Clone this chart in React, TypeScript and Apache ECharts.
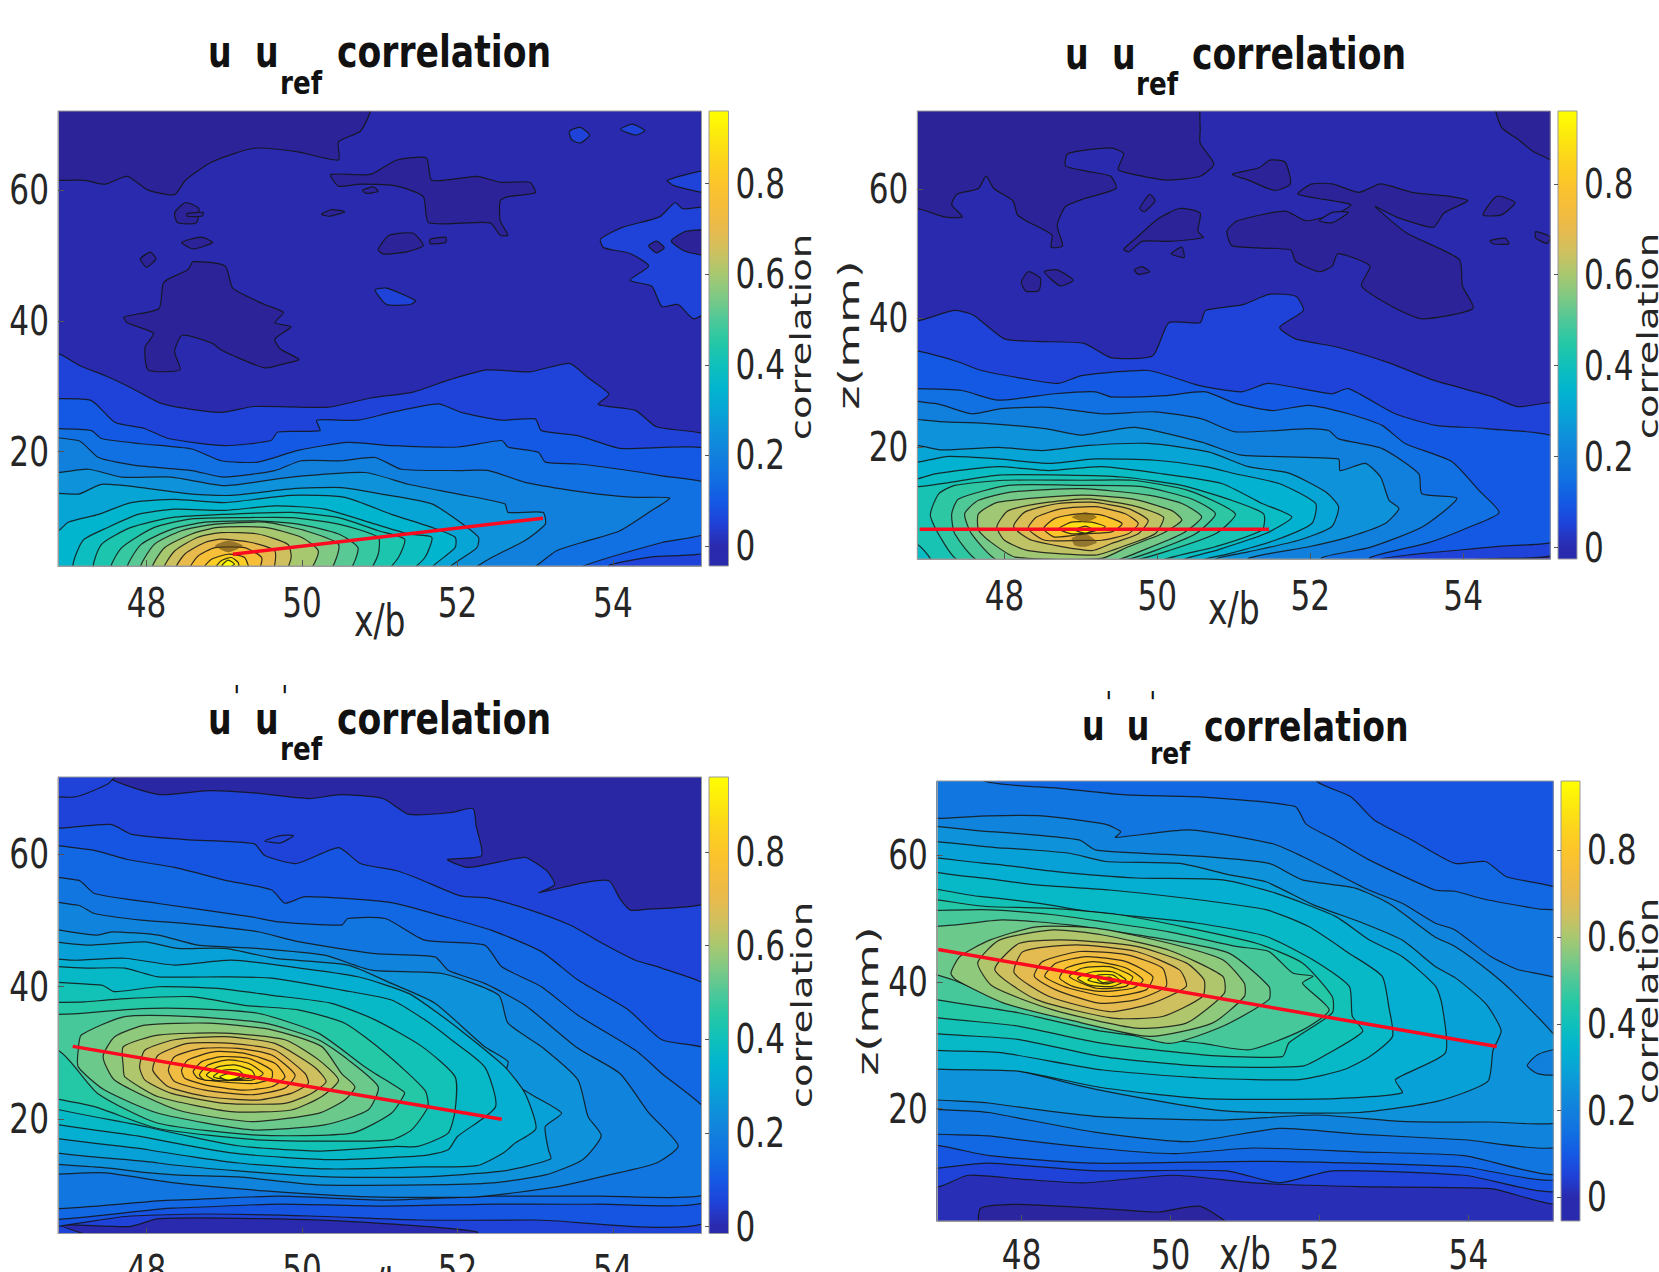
import React, { useEffect, useRef } from "react";
import * as echarts from "echarts";

type Contour = [number, number[]];
const SMUDGE = -9;

const xTicks = [48, 50, 52, 54];
const zTicks = [20, 40, 60];
const colorTicks = [0, 0.2, 0.4, 0.6, 0.8];
const colorScale: [number, string][] = [
  [-0.06, "#2b2192"], [0, "#2a2aae"], [0.05, "#1f42d8"], [0.1, "#1459e4"], [0.15, "#1170e2"], [0.2, "#1180dd"],
  [0.25, "#0e92da"], [0.3, "#07a5d6"], [0.35, "#02b5ce"], [0.4, "#0fc0bb"], [0.45, "#25c8a6"], [0.5, "#4fc898"],
  [0.55, "#7ec984"], [0.6, "#a8c870"], [0.65, "#cfc05f"], [0.7, "#e8ba4c"], [0.75, "#f5bd3a"], [0.8, "#fcc52a"],
  [0.85, "#fcd31d"], [0.9, "#fce70f"], [0.97, "#ffff00"],
];

const topLeftContours: Contour[] = [
  [0, [46, 1, 56, 1, 56, 75, 46, 75]],
  [-0.05, [46.86, 75, 50.88, 75, 50.88, 72.1, 50.75, 69, 50.47, 67.4, 50.47, 64.6, 49.93, 65.9, 49.38, 66.4, 48.84, 64.3, 48.5, 61.5, 48.36, 59.3, 48.02, 60, 47.75, 62.1, 47.47, 60.9, 47.2, 61.5, 46, 62.1]],
  [-0.05, [47.71, 40.6, 48.16, 41.9, 48.22, 45.9, 48.53, 47.8, 48.6, 49.05, 49.01, 48.4, 49.11, 45, 49.52, 42.5, 49.76, 41.3, 49.65, 39.7, 49.86, 39.1, 49.65, 37.2, 49.72, 35.7, 49.96, 34.1, 49.79, 33.5, 49.52, 32.8, 49.11, 34.7, 48.94, 35.7, 48.84, 36.6, 48.46, 37.8, 48.36, 35.3, 48.43, 32.5, 48.02, 32.5, 47.98, 36, 48.09, 38.1, 47.75, 39.7]],
  [-0.05, [50.37, 62.4, 50.88, 62.4, 51.22, 64.6, 51.6, 64.9, 51.67, 61.5, 52.25, 62.1, 52.55, 61.2, 52.93, 61.2, 53, 59.6, 52.65, 59, 52.55, 58.4, 52.55, 55.3, 52.65, 53.1, 52.55, 53.1, 52.42, 55, 51.63, 55, 51.56, 59, 51.22, 60.6, 50.75, 60.9, 50.47, 60.6]],
  [-0.05, [48.36, 56.5, 48.5, 58.1, 48.67, 57.2, 48.64, 55, 48.4, 55]],
  [-0.05, [50.98, 50.9, 51.12, 53.1, 51.43, 53.4, 51.56, 51.5, 51.36, 50.6, 51.05, 50.2]],
  [-0.05, [48.52, 56.4, 48.73, 56.6, 48.71, 56, 48.52, 56]],
  [-0.05, [50.25, 56.3, 50.38, 57, 50.55, 56.7, 50.35, 56]],
  [-0.05, [48.45, 52, 48.7, 52.8, 48.85, 52, 48.6, 51]],
  [-0.05, [47.92, 49.5, 48.05, 50.5, 48.12, 49.5, 48, 48.2]],
  [-0.05, [51.65, 52.5, 51.85, 52.8, 51.85, 52, 51.65, 51.8]],
  [-0.05, [50.78, 60, 50.92, 60.5, 50.98, 59.8, 50.82, 59.5]],
  [0.05, [53.44, 69, 53.58, 69.6, 53.7, 68.4, 53.58, 67.2, 53.47, 67.7]],
  [0.05, [54.1, 69.3, 54.25, 70.1, 54.41, 69.1, 54.29, 68.4]],
  [0.05, [55.3, 63.1, 54.7, 61.5, 54.8, 60.6, 55.3, 59.6]],
  [0.05, [53.84, 52.5, 54.12, 54.3, 54.6, 55.9, 54.8, 58.1, 54.9, 57.15, 55.3, 57.15, 55.3, 42.5, 55.04, 40.3, 54.84, 42.5, 54.63, 42.2, 54.5, 45.3, 54.22, 46.2, 54.46, 48.4, 54.22, 50.3, 53.88, 51.2]],
  [-0.05, [54.75, 52.2, 54.94, 53.7, 55.3, 53.7, 55.3, 50, 54.94, 50.6]],
  [-0.05, [54.46, 51.5, 54.56, 52.2, 54.66, 51.2, 54.56, 50.4]],
  [0.05, [50.94, 44.7, 51.09, 45, 51.46, 43.1, 51.39, 42.5, 51.09, 42.5]],
  [0.05, [46, 35, 46.86, 35, 47.13, 33.2, 47.47, 31.6, 47.81, 29.7, 48.16, 27.5, 48.5, 26.6, 48.97, 26, 49.38, 26.9, 50.34, 26.8, 50.88, 28.2, 51.43, 29.1, 51.9, 31, 52.38, 32.5, 52.93, 32.2, 53.44, 33.5, 53.68, 31.3, 53.95, 28.8, 53.81, 27.2, 54.29, 26.3, 54.56, 23.8, 55.3, 21.9, 55.3, 1, 46, 1]],
  [0.1, [46, 28.1, 46.86, 28.1, 47.29, 27.8, 47.59, 24.5, 47.98, 23.5, 48.28, 22, 49, 20.9, 49.6, 21.7, 49.69, 23, 50.23, 23.2, 50.19, 24.8, 50.72, 24.8, 51.15, 26, 51.75, 27.3, 52.05, 26, 52.57, 24.8, 53, 25, 53.08, 23.2, 53.55, 22.45, 54.09, 20.5, 55.3, 20, 55.3, 5.1, 54.5, 3.9, 53.95, 2.6, 53.95, 1, 46, 1]],
  [0.15, [46, 23.5, 46.86, 23.5, 47.29, 23.2, 47.42, 22, 47.93, 21.2, 48.58, 20.4, 48.96, 18.6, 49.43, 18.4, 49.95, 20.2, 50.59, 21.4, 51.15, 20.9, 52.01, 20.7, 52.57, 21.7, 52.65, 20.7, 53.04, 19.9, 53.13, 18.4, 53.55, 18.1, 54.09, 17.3, 54.63, 16.3, 55.3, 14.8, 55.3, 7.9, 54.63, 6.1, 53.6, 2.4, 53.6, 1, 46, 1]],
  [0.2, [46, 21.7, 47.12, 21.7, 47.38, 19.1, 47.85, 17.9, 48.58, 17.1, 49, 16.1, 49.65, 17.1, 49.99, 18.6, 50.51, 18.6, 50.94, 19.1, 51.28, 17.3, 52.01, 17.1, 52.4, 17.1, 52.87, 15.3, 53.34, 14.3, 53.81, 13.5, 54.29, 13, 54.73, 12.9, 54.5, 11, 54.09, 7.9, 53.6, 6.1, 53.27, 4.8, 52.79, 1, 46, 1]],
  [0.25, [46, 16.8, 46.86, 16.8, 47.25, 17.3, 47.68, 16.1, 48.32, 16.1, 49, 14.8, 49.86, 16.1, 50.81, 16.8, 51.37, 15, 52.01, 13.5, 52.61, 12, 52.65, 10.7, 53.1, 10.7, 53.13, 8.9, 52.87, 6.4, 52.44, 3.8, 52.18, 1.8, 52.18, 1, 46, 1]],
  [0.3, [46, 13.5, 47.12, 13.5, 47.42, 15, 47.93, 14.5, 48.58, 13.5, 49.09, 13.3, 49.86, 14.3, 50.51, 14.5, 51.02, 13.5, 51.67, 12, 52.01, 9.4, 52.27, 6.9, 52.25, 5.3, 52.01, 3.3, 51.84, 1.8, 51.84, 1, 46, 1]],
  [0.35, [46, 7.9, 46.86, 7.9, 46.99, 9.2, 47.38, 10.4, 47.8, 12.2, 48.36, 12.7, 49, 12.2, 49.86, 13.3, 50.55, 13, 51.15, 10.4, 51.67, 8.4, 51.97, 6.9, 51.97, 5.3, 51.67, 2.3, 51.67, 1, 46, 1]],
  [0.39, [47.07, 2, 47.18, 6.4, 47.5, 8.4, 47.89, 10.4, 48.36, 11.2, 49, 11, 49.65, 11.7, 50.29, 11.2, 50.94, 8.9, 51.37, 7.4, 51.67, 6.9, 51.58, 3.8, 51.37, 1.8]],
  [0.43, [47.33, 2, 47.42, 5.8, 47.8, 8.4, 48.32, 9.9, 49, 10.4, 49.86, 10.7, 50.47, 9.9, 50.98, 7.9, 51.32, 6.6, 51.24, 3.8, 51.07, 1.8]],
  [0.47, [47.55, 2, 47.68, 5.3, 48.1, 8.4, 48.58, 9.7, 49.26, 9.9, 49.86, 9.9, 50.47, 8.9, 50.98, 6.9, 50.98, 4.3, 50.85, 1.8]],
  [0.51, [47.76, 2, 47.93, 5.8, 48.32, 8.1, 48.75, 9.2, 49.43, 9.4, 49.95, 8.9, 50.47, 7.4, 50.72, 5.3, 50.59, 1.8]],
  [0.55, [47.93, 2, 48.1, 5.8, 48.45, 7.9, 48.88, 8.9, 49.52, 9.2, 50.04, 7.9, 50.47, 5.8, 50.34, 1.8]],
  [0.6, [48.08, 2, 48.23, 5.3, 48.58, 7.4, 48.92, 8.4, 49.52, 8.4, 49.99, 6.9, 50.21, 4.8, 50.08, 1.8]],
  [0.65, [48.23, 2, 48.36, 4.8, 48.66, 6.9, 48.96, 7.6, 49.43, 7.4, 49.82, 5.8, 49.86, 3.8, 49.78, 1.8]],
  [0.7, [48.38, 2, 48.49, 4.3, 48.75, 6.1, 48.96, 6.6, 49.35, 6.1, 49.65, 4.8, 49.61, 1.8]],
  [0.76, [48.56, 2, 48.66, 4, 48.88, 5.3, 49.26, 5.3, 49.48, 3.8, 49.43, 1.8]],
  [0.83, [48.73, 2, 48.83, 3.5, 49.05, 4.3, 49.26, 3.8, 49.31, 1.8]],
  [0.9, [48.88, 2, 48.96, 3.3, 49.09, 3.8, 49.18, 3, 49.18, 1.8]],
  [0.97, [48.97, 2.6, 49.05, 3.4, 49.13, 2.8, 49.05, 2.2]],
  [SMUDGE, [48.88, 5.6, 49.05, 6.4, 49.24, 5.6, 49.05, 4.6]],
];

const topRightContours: Contour[] = [
  [0, [46, 1, 56, 1, 56, 75, 46, 75]],
  [-0.05, [46, 75, 50.49, 75, 50.56, 69.6, 50.56, 67.1, 50.74, 63.9, 50.56, 62, 50.15, 61.4, 49.94, 61.7, 49.49, 63, 49.56, 65.5, 49.39, 66.4, 48.83, 65.5, 48.8, 63.6, 49.11, 62.7, 49.39, 62, 49.46, 60.1, 49.04, 58.5, 48.8, 57.3, 48.69, 54.4, 48.76, 51.2, 48.61, 51, 48.62, 52.9, 48.28, 55.1, 48.17, 56, 48.11, 58.2, 47.86, 60.1, 47.76, 62, 47.66, 60.1, 47.38, 59.2, 47.31, 57.6, 47.45, 55.7, 47.21, 55.7, 46.86, 57, 46, 57]],
  [-0.05, [54.4, 75, 55.3, 75, 55.3, 64.2, 54.92, 65.8, 54.72, 67.7, 54.5, 69.6]],
  [-0.05, [50.98, 62.3, 51.33, 63.3, 51.47, 64.5, 51.67, 64.2, 51.74, 60.8, 51.53, 59.8, 51.19, 61.4]],
  [-0.05, [51.84, 59.2, 52.02, 60.8, 52.29, 60.8, 52.64, 59.5, 52.92, 60.8, 53.33, 59.5, 53.81, 58.9, 54.06, 58.2, 53.75, 56.3, 53.61, 54.1, 53.12, 55.7, 52.85, 57.3, 53.26, 53.2, 53.95, 49.1, 53.99, 45, 54.13, 41.5, 53.47, 39.9, 53.12, 41.5, 52.67, 45, 52.78, 48.1, 52.36, 50, 52.29, 48.1, 52.12, 47.2, 51.81, 48.8, 51.74, 50.6, 50.98, 51.2, 50.91, 53.5, 51.05, 55.1, 51.67, 56.6, 51.95, 55.1, 52.36, 56.3, 52.53, 57.6]],
  [0, [52.12, 55.1, 52.29, 56.4, 52.5, 56.4, 52.29, 54.8]],
  [-0.05, [49.56, 50.7, 49.73, 52.5, 50.01, 55.4, 50.29, 57, 50.56, 56.3, 50.53, 53.5, 50.6, 52.5, 50.15, 51.9, 49.8, 51.9, 49.63, 50.3]],
  [-0.05, [48.22, 45.6, 48.31, 47.2, 48.47, 46.2, 48.45, 44.3, 48.28, 44.2]],
  [-0.05, [48.52, 47.2, 48.69, 47.5, 48.9, 45.9, 48.73, 45]],
  [-0.05, [49.77, 57, 49.9, 59.2, 49.97, 58.2, 49.83, 56.5]],
  [-0.05, [50.18, 50, 50.32, 51, 50.35, 49.4]],
  [-0.05, [54.26, 56, 54.44, 58.9, 54.68, 57.9, 54.5, 56]],
  [-0.05, [49.7, 47.5, 49.8, 48, 49.9, 47.2, 49.75, 46.8]],
  [-0.05, [54.35, 52, 54.55, 52.4, 54.6, 51.5, 54.4, 51.5]],
  [-0.05, [54.95, 53.4, 55.14, 52.6, 55.1, 51.6, 54.95, 52.4]],
  [0.05, [46, 39.6, 46.86, 39.6, 47.34, 41.2, 47.59, 40.5, 48, 36.8, 48.42, 36.4, 49.04, 36.1, 49.39, 33.9, 49.94, 34.2, 50.15, 39.3, 50.56, 39.3, 50.63, 41.2, 51.12, 42.1, 51.46, 43.7, 51.81, 43.4, 51.91, 41.2, 51.6, 38.6, 51.81, 36.8, 52.36, 35.5, 53.05, 33, 53.61, 30.4, 54.37, 27.9, 54.71, 26.3, 55.3, 26.6, 55.3, 4, 54.5, 2.8, 46, 1]],
  [0.1, [46, 34.9, 46.86, 34.9, 47.38, 33.3, 47.7, 31.9, 48.27, 30.6, 48.71, 29.9, 49.01, 31.1, 49.88, 31.9, 50.54, 29.6, 51.1, 28.6, 51.45, 29.9, 52.28, 28.3, 52.5, 29.1, 53.11, 25.2, 53.64, 23.4, 54.3, 22.9, 55.3, 21, 55.3, 6, 54.5, 4.7, 53.5, 3.6, 52.9, 2.6, 52.9, 1, 46, 1]],
  [0.15, [46, 29.1, 46.85, 29.1, 47.44, 28.8, 47.92, 27.3, 48.66, 28.3, 49.19, 28.6, 49.4, 27.8, 50.1, 28, 50.63, 28.6, 51.02, 26.8, 51.5, 25.7, 51.98, 26.5, 52.5, 25.2, 52.94, 23.4, 53.24, 20.6, 53.85, 17.8, 54.2, 13.4, 54.47, 9.9, 54.09, 7.7, 53.54, 5.2, 52.78, 2.9, 52.78, 1, 46, 1]],
  [0.2, [46, 26.8, 47.09, 26.8, 47.57, 25.2, 47.96, 26, 48.58, 26.2, 49.27, 25.2, 49.97, 25.5, 50.58, 24.4, 51.02, 22.4, 51.98, 22.9, 52.24, 22.6, 52.37, 21.3, 52.94, 19.8, 53.42, 15.9, 53.46, 12.8, 53.92, 12.1, 53.47, 7.7, 52.78, 4.5, 52.15, 2.9, 52.15, 1, 46, 1]],
  [0.25, [46, 23.9, 47.27, 23.9, 47.75, 23.7, 48.53, 22.9, 49.01, 21.9, 49.71, 23.1, 50.58, 20.8, 51.1, 18.8, 52.37, 18.2, 52.39, 16.4, 52.72, 17.5, 52.92, 15.4, 53.03, 11.8, 53.16, 10.5, 52.98, 8.2, 52.5, 6.1, 51.98, 4.6, 51.19, 2.8, 51.19, 1, 46, 1]],
  [0.3, [46, 20.3, 46.85, 20.3, 47.18, 19.6, 47.92, 20, 48.49, 19.5, 49.1, 20.3, 49.88, 20.6, 50.67, 19.3, 51.19, 17, 51.72, 16, 52.2, 13.1, 52.37, 10.8, 52.28, 7.7, 51.85, 5.6, 51.19, 3.8, 50.76, 2.7, 50.76, 1, 46, 1]],
  [0.34, [46, 17.7, 46.85, 17.7, 47.27, 18.6, 47.92, 18.2, 48.58, 17.5, 49.19, 18.2, 49.97, 18, 50.63, 17, 51.02, 15.9, 51.59, 14.4, 52.07, 11.3, 52.02, 8.2, 51.54, 5.6, 50.93, 3.5, 50.58, 2.5, 50.58, 1, 46, 1]],
  [0.38, [46, 15.1, 46.85, 15.1, 47.09, 15.9, 47.92, 17, 48.58, 16.4, 49.27, 17, 50.06, 15.9, 50.84, 14.4, 51.37, 11.3, 51.76, 9.2, 51.41, 6.6, 50.76, 4, 50.32, 2.5, 50.32, 1, 46, 1]],
  [0.42, [46, 13.9, 46.85, 13.9, 47.31, 14.6, 47.92, 15.7, 48.79, 15.7, 49.54, 15.4, 50.32, 14.1, 50.97, 11.8, 51.39, 9.7, 51.37, 7.2, 50.76, 4.6, 50.06, 2.5, 50.06, 1, 47.05, 1, 47.05, 2.4, 46.85, 5, 46, 5]],
  [0.46, [47.14, 12.8, 47.35, 14.1, 48, 14.9, 49.01, 14.9, 49.67, 14.9, 50.41, 13.3, 51.02, 9.7, 50.76, 6.6, 50.15, 4, 49.67, 2.5, 47.4, 2.5, 47.16, 6.1, 47.03, 9.5]],
  [0.5, [47.31, 9.7, 47.4, 12, 48.05, 14.1, 49.01, 14.1, 49.8, 13.9, 50.45, 12, 50.76, 9.7, 50.5, 6.6, 49.97, 4, 49.54, 2.5, 47.66, 2.5, 47.35, 6.6]],
  [0.54, [47.48, 9.7, 47.66, 11.8, 48.1, 13.1, 49.01, 13.6, 49.88, 12.6, 50.32, 11.3, 50.58, 9.2, 50.32, 6.6, 49.8, 4, 49.45, 2.5, 47.92, 2.5, 47.57, 6.6]],
  [0.59, [47.66, 7.2, 47.66, 9.7, 47.92, 11.5, 49.01, 12.6, 49.67, 12, 50.19, 10.2, 50.32, 8.7, 50.06, 6.6, 49.62, 4.6, 49.27, 2.8, 48.14, 3, 47.79, 5.6]],
  [0.63, [47.9, 7.7, 48.05, 10.2, 48.58, 11.5, 49.1, 12, 49.67, 11, 50.08, 9.2, 49.97, 6.6, 49.54, 4.6, 49.19, 3.3, 48.31, 4, 48, 5.6]],
  [0.67, [48.12, 7.7, 48.27, 10, 48.71, 11.3, 49.14, 11.5, 49.62, 10.5, 49.88, 8.7, 49.75, 6.6, 49.4, 5.1, 49.14, 4, 48.36, 5.6]],
  [0.72, [48.31, 7.4, 48.42, 9.2, 48.75, 10.5, 49.19, 10.8, 49.58, 9.7, 49.75, 8.2, 49.62, 6.6, 49.27, 5.6, 49.01, 5.6, 48.53, 5.6]],
  [0.8, [48.51, 7.4, 48.66, 9, 48.97, 9.7, 49.27, 9.5, 49.54, 8.2, 49.4, 6.9, 49.06, 6.6, 48.66, 6.1]],
  [0.88, [48.71, 7.4, 48.88, 8.4, 49.14, 8.4, 49.32, 7.7, 49.14, 6.9, 48.88, 6.6]],
  [0.97, [48.92, 7.2, 49.06, 7.8, 49.16, 7.2, 49.06, 6.7]],
  [SMUDGE, [48.88, 9.2, 49.06, 10, 49.21, 9.2, 49.06, 8.4]],
  [SMUDGE, [48.88, 5.9, 49.06, 6.6, 49.21, 5.3, 49.06, 4.6, 48.92, 4.8]],
];

const bottomLeftContours: Contour[] = [
  [0.05, [46, 1, 56, 1, 56, 75, 46, 75]],
  [-0.02, [47.5, 75, 47.5, 71.65, 48.16, 69, 48.79, 69.6, 49.34, 69.3, 50.09, 68.4, 50.5, 69, 51.04, 68.4, 51.38, 66, 51.93, 66.3, 52.2, 66.9, 52.24, 64.3, 52.31, 59.8, 51.87, 59.2, 52.14, 58, 52.68, 59.2, 52.88, 59.5, 53.15, 57.5, 53.25, 55.4, 53.05, 54.2, 53.63, 55.7, 53.95, 56, 54.09, 53.3, 54.22, 51.6, 54.36, 51.6, 55.3, 53.3, 55.3, 75]],
  [0.05, [46, 70, 47.05, 68.6, 47.5, 70.6, 47.6, 72, 46, 72]],
  [0, [46.9, 4, 47.78, 3.8, 48.16, 5, 49.5, 5, 50.88, 4.4, 52.25, 3, 52.25, 1, 47.78, 1]],
  [0.09, [46, 63.9, 46.86, 63.9, 47.54, 64.5, 47.81, 63, 48.5, 62.2, 49.38, 61.6, 49.52, 59.8, 49.93, 58.6, 50.47, 61, 50.75, 58.6, 51.22, 57.5, 51.5, 56.3, 52.04, 53.7, 52.38, 53.4, 52.93, 51.6, 53.47, 49.2, 53.81, 46.9, 54.29, 44, 54.63, 42.8, 55.3, 39.2, 55.3, 5.1, 53, 4.8, 51.5, 4.8, 50.1, 5.4, 48.8, 5.7, 47.8, 5.4, 46, 4.5]],
  [0.05, [49.52, 62, 49.72, 62.8, 49.89, 62.8, 49.72, 61.7]],
  [0.05, [47.78, 57, 47.92, 58, 47.96, 57.4, 47.81, 56.7]],
  [0.13, [46, 60.7, 47.27, 60.7, 47.75, 59.2, 48.36, 58, 49, 56.1, 49.61, 54.6, 49.78, 52.6, 50.04, 53.6, 51.15, 52.7, 51.84, 50.55, 52.44, 48.5, 53.08, 45.3, 53.55, 41, 54.2, 36.5, 54.63, 32, 55.3, 30, 55.3, 8.1, 53.81, 7.2, 52.45, 7.2, 51.06, 6.9, 49.7, 7.2, 48.34, 6.6, 46, 6.3]],
  [0.17, [46, 56, 47.12, 56.08, 47.33, 54.07, 48.15, 52.56, 49.35, 50.55, 49.69, 49.8, 50.51, 49.3, 50.59, 50.3, 51.07, 50.3, 51.58, 47.03, 52.35, 46.28, 52.57, 43, 53.08, 40, 53.55, 35.7, 54.29, 30.4, 54.63, 26.9, 55.3, 20.1, 55.3, 9, 53.81, 8.4, 52.45, 8.4, 51.06, 7.8, 49.7, 8.4, 48.34, 7.8, 46, 8.1]],
  [0.21, [46, 52.56, 47.12, 52.3, 47.33, 51.05, 47.93, 50.05, 48.49, 49.55, 49.43, 48.3, 49.95, 46.8, 50.94, 45, 51.71, 44.5, 51.88, 42.5, 52.35, 40.5, 52.87, 37.2, 53.55, 30.7, 54.09, 26.9, 54.46, 21, 54.84, 16, 54.56, 13.4, 53.95, 11.6, 53.27, 9.8, 52.25, 8.3, 50.88, 8.3, 49.52, 9.2, 48.36, 10.4, 47.47, 11.9, 46, 13]],
  [0.25, [46, 48.54, 47.37, 47.79, 47.55, 48.29, 48.15, 47.79, 48.66, 46.28, 49.43, 45.78, 50.29, 44.77, 50.89, 42.51, 51.8, 42, 52.53, 38.74, 52.65, 34.5, 53.08, 30.95, 53.55, 25.95, 53.68, 20.4, 53.85, 17.5, 53.61, 13.9, 53.13, 11.6, 52.45, 10.4, 51.56, 10.1, 50.2, 10.1, 49.18, 11.3, 48.36, 11.6, 47.61, 12.5, 46, 15.7]],
  [0.29, [46, 46.53, 47.25, 46.28, 47.98, 46.78, 48.4, 45.78, 49.01, 45.78, 49.65, 44.27, 50.59, 43.27, 51.15, 40.5, 51.71, 37.5, 52.35, 30.95, 52.65, 28.7, 52.61, 26.4, 53, 23.4, 53.34, 20.9, 53.13, 18.9, 53.17, 15.4, 53.2, 14, 52.59, 12.2, 51.56, 11.3, 50.34, 11.3, 49.18, 12.2, 48.15, 13.4, 46, 17.8]],
  [0.33, [46, 43.77, 47.12, 44, 47.72, 44.3, 48.36, 43.27, 49.09, 44, 49.86, 43, 50.72, 41.5, 51.37, 39, 51.75, 36, 52.14, 32.5, 52.61, 27.9, 52.87, 23.9, 53.01, 18.6, 52.74, 16.4, 52.6, 15, 52.25, 13, 51.56, 12.8, 50.34, 12.5, 49.18, 13.4, 48.02, 15.4, 46, 20]],
  [0.37, [46, 42.26, 47.29, 42.8, 47.72, 42.8, 48.15, 41.5, 49.01, 41.5, 49.61, 41.3, 50.51, 39.5, 51.15, 38, 51.58, 35, 51.92, 32, 52.35, 27.9, 52.49, 21.9, 52, 17.4, 51.88, 15.4, 51.56, 14.5, 50.34, 13.9, 49.18, 14.8, 48.02, 17.2, 46, 22.2]],
  [0.41, [46, 40, 47.42, 40.25, 47.59, 39.25, 48.15, 40, 48.92, 39.75, 49.61, 38.7, 50.38, 37.5, 50.94, 35, 51.54, 31, 51.97, 26.4, 51.97, 21.4, 51.88, 17.9, 51.49, 15.9, 51.22, 15.9, 50.2, 15.2, 49.18, 16, 48.02, 18.8, 46, 24.8]],
  [0.45, [46, 36.7, 47.2, 37.7, 47.72, 38.2, 48.58, 38.5, 49.26, 37.2, 49.95, 36.5, 50.55, 34.5, 51.07, 30, 51.58, 24.4, 51.62, 21.9, 51.41, 18.4, 51.15, 16.9, 50.5, 16.7, 49.43, 16.9, 48.15, 18.6, 47.33, 21.9, 46, 25.9]],
  [0.49, [46, 34.97, 47.16, 35.98, 47.93, 36.7, 48.58, 36.7, 49.43, 36, 50.21, 33, 50.81, 27.9, 51.28, 24.4, 51.32, 23.9, 51.15, 20.9, 50.64, 17.9, 49.43, 17.6, 48.15, 19.4, 47.37, 23.9, 46.86, 30.4, 46, 30.4]],
  [0.53, [47.12, 30.45, 47.16, 32.7, 47.72, 35.5, 48.58, 35.5, 49.52, 34.5, 50.21, 32, 50.59, 29, 50.98, 24.9, 50.85, 21.4, 50.29, 19.15, 49.35, 18.4, 48.15, 20.9, 47.46, 24.4, 47.12, 27.9]],
  [0.57, [47.44, 29.45, 47.59, 32.46, 47.98, 34.2, 48.79, 34.5, 49.61, 33.5, 50.25, 31, 50.51, 26.9, 50.68, 24.9, 50.55, 22.9, 50.21, 20.9, 49.35, 19.65, 48.4, 21.4, 47.59, 25.9]],
  [0.61, [47.7, 27.9, 47.7, 30.95, 48.15, 32.7, 49, 33, 49.78, 32, 50.21, 29, 50.47, 25.9, 50.25, 23.4, 49.86, 21.4, 49.09, 21.15, 48.15, 23.4, 47.72, 26.4]],
  [0.65, [47.91, 27.9, 47.98, 30.45, 48.36, 32, 49, 32.46, 49.65, 31.45, 50.16, 27.9, 50.31, 25.7, 50.12, 23.9, 49.78, 22.4, 49, 22.4, 48.32, 23.9, 47.98, 25.9]],
  [0.69, [48.08, 27.4, 48.15, 29.7, 48.53, 31.45, 49.09, 31.45, 49.65, 30.45, 50.04, 26.9, 50.08, 25.4, 49.86, 23.9, 49.43, 22.9, 48.79, 23.4, 48.28, 24.9]],
  [0.73, [48.28, 27.4, 48.36, 29.45, 48.71, 30.7, 49.18, 30.7, 49.61, 29.7, 49.91, 26.7, 49.78, 24.7, 49.35, 23.7, 48.75, 24.4, 48.36, 25.7]],
  [0.77, [48.45, 27.4, 48.53, 28.95, 48.88, 30.2, 49.26, 29.95, 49.65, 28.45, 49.78, 26.4, 49.61, 24.9, 49.22, 24.4, 48.75, 25.2, 48.49, 26.2]],
  [0.81, [48.6, 27.2, 48.71, 28.7, 48.96, 29.45, 49.31, 29.2, 49.61, 27.4, 49.61, 26.2, 49.39, 25.4, 48.92, 25.7, 48.66, 26.2]],
  [0.85, [48.68, 26.7, 48.79, 28.2, 49.05, 28.95, 49.31, 28.45, 49.5, 26.9, 49.35, 25.9, 49, 25.9, 48.75, 25.9]],
  [0.89, [48.77, 26.7, 48.92, 27.9, 49.13, 28.2, 49.35, 27.4, 49.39, 26.4, 49.13, 25.9, 48.88, 25.9]],
  [0.93, [48.86, 26.4, 48.98, 27.4, 49.18, 27.4, 49.26, 26.4, 49.09, 25.9]],
  [0.97, [48.94, 26.4, 49.09, 27, 49.2, 26.4, 49.05, 25.9]],
];

const bottomRightContours: Contour[] = [
  [0.01, [46, 1, 56, 1, 56, 75, 46, 75]],
  [-0.03, [47.45, 1, 47.45, 4.3, 47.93, 4.9, 48.98, 4.3, 49.83, 3.7, 50.4, 4.6, 50.82, 1]],
  [0.05, [46, 7.7, 46.89, 7.7, 47.28, 9.5, 47.99, 8.9, 48.84, 8.3, 50.04, 9.5, 51.11, 8.3, 52.52, 7.7, 54.3, 7.4, 55.3, 5.5, 55.3, 75, 46, 75]],
  [0.09, [46, 11.4, 47.56, 11.4, 48.98, 10.2, 50.75, 10.2, 51.46, 8.3, 52.17, 10.2, 53.94, 9.5, 55.3, 7.7, 55.3, 75, 46, 75]],
  [0.13, [46, 75, 51.96, 75, 51.96, 71.7, 52.42, 69.2, 52.74, 65.5, 53.24, 62.4, 53.82, 58.7, 54.23, 59, 54.51, 56.6, 55.3, 53.8, 55.3, 9.5, 53.94, 10.8, 52.52, 11.4, 51.11, 11.7, 48.98, 11.4, 47.56, 12.6, 46.86, 14.2, 46, 14.2]],
  [0.17, [46, 75, 47.49, 75, 47.49, 71.7, 48.55, 70.5, 49.4, 69.5, 50.4, 69.2, 51.67, 67.7, 51.82, 64.9, 52.21, 62.4, 52.66, 59.3, 53.55, 54.5, 53.82, 54.3, 54.23, 53, 54.94, 51.5, 55.3, 50.8, 55.3, 10.2, 53.94, 12.6, 52.52, 13.2, 51.11, 13.8, 50.04, 12.9, 48.98, 13.8, 47.56, 15.7, 46, 18.2]],
  [0.21, [46, 65.8, 46.89, 65.8, 47.56, 66.2, 48.27, 66.2, 49.12, 64.9, 49.33, 63.7, 49.26, 62.8, 50.25, 64, 51.37, 61.8, 51.77, 59.8, 52.21, 57.2, 52.66, 54.5, 53.11, 52.4, 53.55, 49.3, 53.82, 48.2, 54.3, 44, 54.65, 42, 55.3, 39.7, 55.3, 14.5, 53.94, 15.1, 52.52, 16, 51.46, 16.9, 50.25, 14.8, 48.98, 16.3, 47.56, 19.4, 46, 22.2]],
  [0.25, [46, 63.7, 47.56, 63.7, 48.77, 62.4, 49, 60.8, 50.43, 59.8, 51.32, 58.7, 51.77, 56.1, 52.48, 54.8, 52.93, 52.4, 53.55, 47.1, 53.82, 45.6, 54.3, 41.5, 54.65, 37.8, 55.3, 29.2, 55.3, 18.2, 54.3, 17.9, 53.1, 18, 51.96, 19, 50.68, 18.2, 48.98, 18.8, 47.56, 20.9, 46, 23.7]],
  [0.29, [46, 61.35, 47.75, 61.1, 48.64, 60.3, 49.13, 59, 50.12, 58.7, 50.79, 56.9, 51.28, 55.8, 51.91, 52.2, 52.58, 49.3, 53.11, 46.6, 53.56, 42.4, 53.83, 40.6, 54.23, 36.6, 54.44, 32.3, 54.33, 29.2, 54.26, 24.3, 53.59, 21.2, 52.52, 19.4, 50.68, 19.7, 48.98, 23.1, 47.56, 27.1, 46, 29.2]],
  [0.2, [54.79, 26.8, 54.94, 28.6, 55.3, 29.5, 55.3, 25.5, 54.94, 25.5]],
  [0.33, [46, 59, 47.52, 58.7, 48.46, 57.4, 49.54, 56.4, 50.7, 56.1, 51.41, 54, 52.22, 50.3, 52.67, 46.6, 53.11, 44, 53.56, 39.3, 53.65, 36.1, 53.69, 28.8, 53.02, 24.6, 53.11, 22.5, 52.22, 21.6, 50.43, 21.6, 49.09, 23.3, 47.97, 25.9, 46, 28.2]],
  [0.37, [46, 57.1, 47.3, 56.6, 48.2, 55.3, 49.18, 54.5, 50.21, 53.2, 51.28, 51.4, 51.86, 48.7, 52.4, 44.5, 52.84, 40.9, 52.93, 36.1, 52.98, 31.4, 52.67, 28.2, 52.31, 26.1, 51.73, 24.6, 50.52, 24.8, 49.09, 26.1, 47.75, 28.8, 46, 31.1]],
  [0.41, [46, 55, 47.43, 53.5, 48.24, 52.4, 48.91, 51.1, 50.34, 49.3, 51.28, 47.2, 51.91, 43.5, 52.4, 39.3, 52.44, 34.6, 52.58, 32.2, 52.13, 28.8, 51.77, 26.7, 50.43, 26.7, 49.09, 28.2, 47.97, 30.9, 46, 34]],
  [0.45, [46, 53.2, 47.52, 51.9, 48.42, 51.6, 49.31, 50.6, 50.25, 48.5, 51.15, 46.1, 51.77, 43, 52.17, 37.7, 52.17, 35.1, 51.59, 30.4, 51.5, 28.2, 50.43, 28.5, 49.09, 30.3, 47.97, 33, 46, 36.7]],
  [0.49, [46, 50, 47.43, 51.4, 48.42, 50.6, 49.09, 49.5, 49.98, 47.9, 50.88, 45.6, 51.32, 44.8, 51.64, 41.4, 51.91, 40.9, 51.77, 39.8, 52.13, 35.6, 51.77, 32.4, 51.06, 29.3, 50.43, 30.3, 49.09, 32.2, 47.97, 35.1, 46, 39.8]],
  [0.53, [46, 47.7, 47.12, 49, 47.75, 49.8, 48.64, 49, 49.98, 46.6, 50.79, 44.5, 51.32, 39.3, 51.32, 37.2, 50.7, 33, 49.98, 30.3, 49.09, 33, 47.97, 36.1, 47.08, 40.3, 46, 44.5]],
  [0.57, [47.05, 41.4, 47.17, 44, 47.57, 46.6, 48.2, 48.7, 49, 48.5, 49.98, 46.1, 50.7, 43.5, 50.99, 39.8, 50.99, 37.7, 50.56, 33.5, 49.72, 31.4, 48.64, 34, 47.75, 36.7, 47.12, 40.3]],
  [0.61, [47.41, 43, 47.7, 46.6, 48.42, 48.2, 49.09, 47.4, 49.98, 45, 50.7, 40.9, 50.72, 38.2, 50.21, 33.5, 49.54, 32.7, 48.42, 35.6, 47.61, 39.3]],
  [0.65, [47.64, 41.9, 47.97, 46.1, 48.64, 46.6, 49.54, 45.6, 50.21, 43, 50.45, 40.3, 50.43, 37.7, 49.89, 34.55, 49.22, 34.3, 48.2, 37.2]],
  [0.69, [47.9, 41.4, 48.02, 44.8, 48.73, 45.85, 49.54, 44.8, 50.12, 41.9, 50.21, 39.3, 49.76, 36.65, 49.18, 35.3, 48.37, 37.7]],
  [0.73, [48.17, 40.85, 48.28, 43.2, 48.78, 44.8, 49.4, 44.3, 49.89, 42.2, 49.94, 39.3, 49.54, 37.2, 49.04, 36.65, 48.46, 38.75]],
  [0.77, [48.31, 40.85, 48.46, 42.95, 48.87, 44, 49.4, 43.2, 49.76, 40.85, 49.67, 38.75, 49.18, 37.7, 48.64, 39]],
  [0.81, [48.51, 40.6, 48.6, 42.2, 48.96, 43.2, 49.4, 42.2, 49.63, 40.3, 49.49, 39, 49.04, 38.5, 48.69, 39.3]],
  [0.85, [48.64, 40.85, 48.82, 42.2, 49.18, 42.4, 49.49, 40.85, 49.4, 39.3, 49, 39]],
  [0.89, [48.75, 40.6, 48.96, 41.6, 49.22, 41.6, 49.4, 40.3, 49.22, 39.3, 48.91, 39.5]],
  [0.93, [48.89, 40.3, 49.04, 41.1, 49.22, 41.1, 49.31, 40.3, 49.13, 39.7]],
  [0.97, [49.02, 40.4, 49.18, 40.75, 49.25, 40.2, 49.09, 39.9]],
];

const topLeftRidge = [[49.11, 4.3], [53.1, 9.8]];
const topRightRidge = [[46.89, 7.3], [51.46, 7.3]];
const bottomLeftRidge = [[47.05, 31], [52.57, 20]];
const bottomRightRidge = [[46.88, 45.1], [54.38, 29.8]];

const panels = [
  { contours: topLeftContours, ridge: topLeftRidge, plot: [58, 111, 643.5, 455], bar: [709, 111, 19.5, 455], z: [2.5, 72.1], c: [-0.044, 0.96], tickY: 603, nameY: 621 },
  { contours: topRightContours, ridge: topRightRidge, plot: [917.3, 111, 633, 448], bar: [1558, 111, 19, 448], z: [2.7, 72.1], c: [-0.025, 0.96], tickY: 596, nameY: 609 },
  { contours: bottomLeftContours, ridge: bottomLeftRidge, plot: [58, 777, 643.5, 456.5], bar: [709, 777, 19.5, 456.5], z: [2.76, 71.65], c: [-0.015, 0.96], tickY: 1270, nameY: 1285 },
  { contours: bottomRightContours, ridge: bottomRightRidge, plot: [936.8, 781, 616.5, 440], bar: [1561, 781, 19, 440], z: [2.28, 71.7], c: [-0.055, 0.96], tickY: 1255, nameY: 1254 },
];

const textColor = "#262626";
const font = "'DejaVu Sans', sans-serif";

function hexToRgb(h: string) {
  return [parseInt(h.slice(1, 3), 16), parseInt(h.slice(3, 5), 16), parseInt(h.slice(5, 7), 16)];
}
function colorOf(v: number) {
  if (v <= colorScale[0][0]) return colorScale[0][1];
  for (let i = 1; i < colorScale.length; i++) {
    if (v <= colorScale[i][0]) {
      const [a, ca] = colorScale[i - 1];
      const [b, cb] = colorScale[i];
      const t = (v - a) / (b - a);
      const A = hexToRgb(ca);
      const B = hexToRgb(cb);
      return `rgb(${A.map((x, k) => Math.round(x + (B[k] - x) * t)).join(",")})`;
    }
  }
  return colorScale[colorScale.length - 1][1];
}

function label(text: string, x: number, y: number, size: number, opts: any = {}) {
  return {
    type: "text",
    x,
    y,
    rotation: opts.rotation ?? 0,
    scaleX: opts.scaleX ?? 1,
    scaleY: opts.scaleY ?? 1,
    z: 50,
    silent: true,
    style: {
      text,
      fill: opts.fill ?? "#111",
      fontFamily: font,
      fontSize: size,
      fontWeight: opts.weight ?? "normal",
      textAlign: opts.align ?? "left",
      textVerticalAlign: opts.valign ?? "bottom",
    },
  };
}

function titleParts(left: number, uu: string, refX: number, corrX: number, base: number, refBase: number, size: number, primes?: number[]) {
  const out: any[] = [
    label(uu, left, base, size, { weight: "bold", scaleX: 0.74 }),
    label("ref", refX, refBase, size * 0.71, { weight: "bold", scaleX: 0.82 }),
    label("correlation", corrX, base, size, { weight: "bold", scaleX: 0.77 }),
  ];
  if (primes) primes.forEach((p, i) => i < 2 && out.push(label("'", p, primes[2], 30, { weight: "bold", scaleX: 0.6 })));
  return out;
}

const tickOpts = { scaleX: 0.76, fill: textColor, valign: "middle" };

export default function App() {
  const ref = useRef<HTMLDivElement>(null);
  useEffect(() => {
    if (!ref.current) return;
    document.body.style.margin = "0";
    const chart = echarts.init(ref.current, undefined, { renderer: "svg" });
    const grid: any[] = [];
    const xAxis: any[] = [];
    const yAxis: any[] = [];
    const series: any[] = [];
    const axisLine = { show: true, lineStyle: { color: "#9a9a9a", width: 1 } };
    const axisTick = { show: true, inside: true, length: 6, lineStyle: { color: "#555", width: 1 } };

    panels.forEach((p, i) => {
      const gi = i * 2;
      grid.push({ left: p.plot[0], top: p.plot[1], width: p.plot[2], height: p.plot[3], show: true, borderColor: "#9a9a9a", borderWidth: 1, z: 10, backgroundColor: "transparent", outerBoundsMode: "none" });
      grid.push({ left: p.bar[0], top: p.bar[1], width: p.bar[2], height: p.bar[3], show: true, borderColor: "#9a9a9a", borderWidth: 1, z: 10, backgroundColor: "transparent", outerBoundsMode: "none" });
      xAxis.push({
        gridIndex: gi, type: "value", min: 46.86, max: 55.14, z: 10,
        splitLine: { show: false }, axisLine, axisTick: { ...axisTick, customValues: xTicks },
        axisLabel: { show: false },
      });
      yAxis.push({
        gridIndex: gi, type: "value", min: p.z[0], max: p.z[1], z: 10,
        splitLine: { show: false }, axisLine, axisTick: { ...axisTick, customValues: zTicks },
        axisLabel: { show: false },
      });
      xAxis.push({ gridIndex: gi + 1, type: "value", min: 0, max: 1, show: false });
      yAxis.push({
        gridIndex: gi + 1, type: "value", position: "right", min: p.c[0], max: p.c[1], z: 10,
        splitLine: { show: false }, axisLine: { show: false }, axisTick: { ...axisTick, length: 4, customValues: colorTicks },
        axisLabel: { show: false },
      });
      series.push({
        type: "custom", xAxisIndex: gi, yAxisIndex: gi, clip: true, silent: true, z: 2,
        data: p.contours.map((c, k) => [c[1][0], c[1][1], c[0], k]),
        encode: { x: 0, y: 1 },
        renderItem: (_: any, api: any) => {
          const c = p.contours[api.value(3)];
          const pts: number[][] = [];
          for (let j = 0; j < c[1].length; j += 2) pts.push(api.coord([c[1][j], c[1][j + 1]]));
          const smudge = c[0] === SMUDGE;
          return {
            type: "polygon",
            shape: { points: pts, smooth: 0.2 },
            style: smudge
              ? { fill: "rgba(95,70,20,0.6)", stroke: "none" }
              : { fill: colorOf(c[0]), stroke: "rgba(20,20,20,0.85)", lineWidth: 1.2 },
          };
        },
      });
      series.push({
        type: "line", xAxisIndex: gi, yAxisIndex: gi, data: p.ridge, symbol: "none", z: 5, silent: true,
        lineStyle: { color: "#fb0a20", width: 3.5 },
      });
      const stops = colorScale
        .filter(([v]) => v >= p.c[0])
        .map(([v, color]) => ({ offset: Math.min(1, (v - p.c[0]) / (p.c[1] - p.c[0])), color }));
      series.push({
        type: "custom", xAxisIndex: gi + 1, yAxisIndex: gi + 1, clip: true, silent: true, z: 2,
        data: [[0, p.c[0], 1, p.c[1]]],
        encode: { x: 0, y: 1 },
        renderItem: (_: any, api: any) => {
          const a = api.coord([api.value(0), api.value(3)]);
          const b = api.coord([api.value(2), api.value(1)]);
          return {
            type: "rect",
            shape: { x: a[0], y: a[1], width: b[0] - a[0], height: b[1] - a[1] },
            style: { fill: new echarts.graphic.LinearGradient(0, 1, 0, 0, stops) },
          };
        },
      });
    });

    const vertical = { rotation: Math.PI / 2, align: "center", valign: "middle", fill: textColor };
    const elements: any[] = [
      ...titleParts(208, "u  u", 280, 337, 74, 99, 45),
      ...titleParts(1065, "u  u", 1136, 1192, 76, 100, 45),
      ...titleParts(208, "u  u", 280, 337, 741, 765, 45, [234, 282, 712]),
      ...titleParts(1082, "u  u", 1150, 1204, 747, 769, 43, [1106, 1150, 718]),
      label("correlation", 801, 337, 38.5, { ...vertical, scaleY: 0.75 }),
      label("correlation", 1648, 336, 38.5, { ...vertical, scaleY: 0.75 }),
      label("correlation", 802, 1005, 38.5, { ...vertical, scaleY: 0.75 }),
      label("correlation", 1648, 1001, 38.5, { ...vertical, scaleY: 0.75 }),
      label("z(mm)", -14, 338, 46, { ...vertical, scaleY: 0.62 }),
      label("z(mm)", 848.5, 335, 46, { ...vertical, scaleY: 0.62 }),
      label("z(mm)", -14, 1005, 46, { ...vertical, scaleY: 0.62 }),
      label("z(mm)", 868, 1001, 46, { ...vertical, scaleY: 0.62 }),
    ];

    chart.setOption({ animation: false, backgroundColor: "#ffffff", grid, xAxis, yAxis, series });

    panels.forEach((p, i) => {
      const gi = i * 2;
      xTicks.forEach((t) => {
        const [px] = chart.convertToPixel({ gridIndex: gi } as any, [t, p.z[0]]);
        elements.push(label(String(t), px, p.tickY, 41, { ...tickOpts, align: "center" }));
      });
      zTicks.forEach((t) => {
        const [, py] = chart.convertToPixel({ gridIndex: gi } as any, [47, t]);
        elements.push(label(String(t), p.plot[0] - 9, py, 41, { ...tickOpts, align: "right" }));
      });
      colorTicks.forEach((t) => {
        const [, py] = chart.convertToPixel({ gridIndex: gi + 1 } as any, [0, t]);
        elements.push(label(String(t), p.bar[0] + p.bar[2] + 7, py, 41, { ...tickOpts, align: "left" }));
      });
      elements.push(label("x/b", p.plot[0] + p.plot[2] / 2, p.nameY, 44, { scaleX: 0.75, fill: textColor, valign: "middle", align: "center" }));
    });

    chart.setOption({ graphic: { elements } });
    return () => chart.dispose();
  }, []);
  return <div ref={ref} style={{ position: "absolute", left: 0, top: 0, width: 1659, height: 1272 }} />;
}
